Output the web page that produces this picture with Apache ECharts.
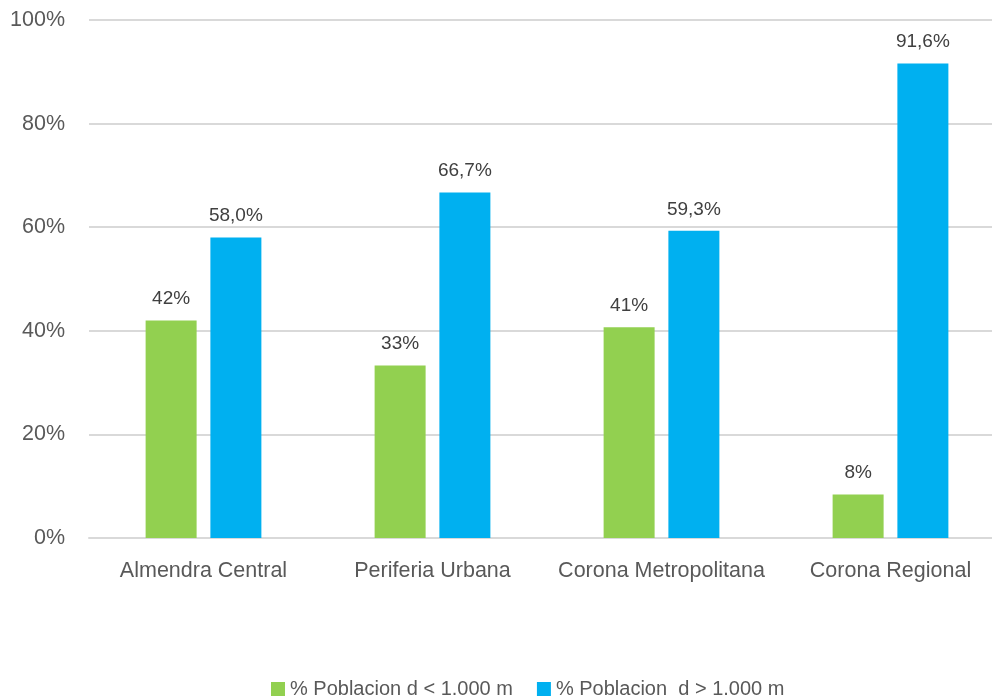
<!DOCTYPE html>
<html><head><meta charset="utf-8">
<script src="https://cdn.jsdelivr.net/npm/echarts@6/dist/echarts.min.js"></script>
<style>html,body{margin:0;padding:0;background:#fff}#c{width:992px;height:699px}</style>
</head><body><div id="c"></div>
<script>
const categories = ["Almendra Central", "Periferia Urbana", "Corona Metropolitana", "Corona Regional"];
const seriesNames = ["% Poblacion d < 1.000 m", "% Poblacion  d > 1.000 m"];
const nearValues = [42.0, 33.3, 40.7, 8.4];
const farValues = [58.0, 66.7, 59.3, 91.6];
const yTicks = [0, 20, 40, 60, 80, 100];

const FONT = "'Liberation Sans', Arial, sans-serif";
const TXT = '#595959';
const chart = echarts.init(document.getElementById('c'));
chart.setOption({
  animation: false,
  grid: {left: 89, width: 916, top: 20, bottom: 161, containLabel: false, outerBoundsMode: 'none'},
  legend: {
    top: 674, left: 266, itemWidth: 14, itemHeight: 14, itemGap: 24,
    icon: 'rect',
    textStyle: {color: TXT, fontSize: 20, fontFamily: FONT},
    data: seriesNames
  },
  xAxis: {
    type: 'category', data: categories,
    axisLine: {lineStyle: {color: '#d9d9d9', width: 2}},
    axisTick: {show: false},
    axisLabel: {color: TXT, fontSize: 21.5, fontFamily: FONT, margin: 22, interval: 0}
  },
  yAxis: {
    type: 'value', min: yTicks[0], max: yTicks[yTicks.length-1], interval: 20,
    axisLine: {show: false}, axisTick: {show: false},
    splitLine: {lineStyle: {color: '#d9d9d9', width: 2}},
    axisLabel: {color: TXT, fontSize: 21.5, fontFamily: FONT, margin: 24, formatter: v => v + '%'}
  },
  series: [
    {
      name: seriesNames[0], type: 'bar', data: nearValues, barWidth: 51, barGap: '27%',
      itemStyle: {color: '#92D050'},
      label: {show: true, position: 'top', distance: 12, color: '#404040', fontSize: 19, fontFamily: FONT,
        formatter: p => Math.round(p.value) + '%'}
    },
    {
      name: seriesNames[1], type: 'bar', data: farValues, barWidth: 51,
      itemStyle: {color: '#00B0F0'},
      label: {show: true, position: 'top', distance: 12, color: '#404040', fontSize: 19, fontFamily: FONT,
        formatter: p => p.value.toFixed(1).replace('.', ',') + '%'}
    }
  ]
});
</script></body></html>
